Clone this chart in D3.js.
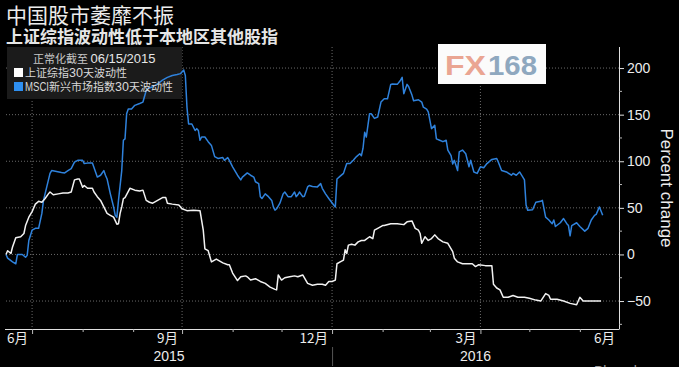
<!DOCTYPE html>
<meta charset="utf-8">
<style>
    body { margin: 0; background: #000; }
    svg { display: block; background: #000; }
    .grid line { stroke: #6a6a6a; stroke-dasharray: 1,2; }
    .cjk { font-family: "Noto Sans CJK SC", sans-serif; }
    .lat { font-family: "Liberation Sans", "Noto Sans", sans-serif; }
</style>
<svg width="679" height="367"></svg>
<script src="https://d3js.org/d3.v7.min.js"></script>
<script>

    // 上证综指30天波动性, normalized to 06/15/2015
    var shDates = ["2015-06-15","2015-06-16","2015-06-18","2015-06-19","2015-06-21","2015-06-24","2015-06-26","2015-06-27","2015-06-29",
        "2015-07-01","2015-07-03","2015-07-05","2015-07-07","2015-07-09","2015-07-11","2015-07-12","2015-07-14","2015-07-17","2015-07-20",
        "2015-07-23","2015-07-25","2015-07-27","2015-07-29","2015-07-30","2015-08-01","2015-08-02","2015-08-04","2015-08-07","2015-08-08",
        "2015-08-10","2015-08-12","2015-08-14","2015-08-16","2015-08-18","2015-08-20","2015-08-22","2015-08-23","2015-08-24","2015-08-25",
        "2015-08-26","2015-08-27","2015-08-30","2015-09-02","2015-09-05","2015-09-07","2015-09-09","2015-09-11","2015-09-13","2015-09-16",
        "2015-09-19","2015-09-21","2015-09-22","2015-09-25","2015-09-29","2015-10-01","2015-10-04","2015-10-08","2015-10-12","2015-10-14",
        "2015-10-15","2015-10-17","2015-10-19","2015-10-22","2015-10-26","2015-10-29","2015-10-30","2015-11-01","2015-11-04","2015-11-06",
        "2015-11-09","2015-11-10","2015-11-12","2015-11-15","2015-11-18","2015-11-21","2015-11-24","2015-11-27","2015-11-28","2015-11-29",
        "2015-12-01","2015-12-03","2015-12-06","2015-12-09","2015-12-11","2015-12-14","2015-12-17","2015-12-20","2015-12-23","2015-12-26",
        "2015-12-28","2015-12-30","2016-01-01","2016-01-03","2016-01-04","2016-01-06","2016-01-08","2016-01-09","2016-01-10","2016-01-11",
        "2016-01-13","2016-01-15","2016-01-17","2016-01-19","2016-01-21","2016-01-24","2016-01-26","2016-01-27","2016-01-29","2016-02-01",
        "2016-02-02","2016-02-06","2016-02-10","2016-02-14","2016-02-16","2016-02-19","2016-02-21","2016-02-23","2016-02-24","2016-02-25",
        "2016-02-27","2016-02-29","2016-03-02","2016-03-04","2016-03-06","2016-03-09","2016-03-12","2016-03-15","2016-03-16","2016-03-18",
        "2016-03-21","2016-03-24","2016-03-27","2016-03-29","2016-03-31","2016-04-04","2016-04-08","2016-04-09","2016-04-11","2016-04-13",
        "2016-04-15","2016-04-18","2016-04-21","2016-04-24","2016-04-28","2016-05-01","2016-05-05","2016-05-08","2016-05-11","2016-05-13",
        "2016-05-14","2016-05-18","2016-05-22","2016-05-26","2016-05-30","2016-06-01","2016-06-03","2016-06-07","2016-06-14"];
    var shValues = [0,4,1,8,18,19,22.5,31,40,
        46,54,57,56,60,65,67,64,65,66,
        66,67,80,81,81,72,74,71,71,67,
        62,58,51,44,42,40,32.5,33,44,51,
        60,61,71,69,68,69,58,56,55,58,
        61,61,55,54,53,49,47,47.5,47,26,
        6,4,-8,-5,-9,-11,-11,-20,-28,-24,
        -23,-24,-27.5,-26,-29,-31,-35,-37.5,-38,-22,
        -27.5,-25,-24,-23,-24,-22,-31,-33,-32,-32,
        -33,-29,-29,-27.5,-10,-8,-6,5,1,10,
        11,10,13.5,15,15,19,17,26,28,31,
        31,33,33,32,35,36,28,26,22.5,12,
        19,15,17,21,17,13.5,12,3,-4,-8,
        -10,-10,-10,-13,-11,-12,-12,-32,-36,-38,
        -46,-46,-44,-46,-46,-47,-49,-50,-42,-44,
        -48,-48,-50,-52.5,-54,-46,-50,-50,-50];

    // MSCI新兴市场指数30天波动性, normalized to 06/15/2015
    var emDates = ["2015-06-15","2015-06-16","2015-06-19","2015-06-21","2015-06-22","2015-06-24","2015-06-25","2015-06-27","2015-06-28",
        "2015-06-29","2015-07-01","2015-07-03","2015-07-05","2015-07-07","2015-07-08","2015-07-10","2015-07-12","2015-07-13","2015-07-16",
        "2015-07-19","2015-07-21","2015-07-23","2015-07-25","2015-07-27","2015-07-29","2015-08-01","2015-08-02","2015-08-04","2015-08-07",
        "2015-08-10","2015-08-12","2015-08-14","2015-08-15","2015-08-16","2015-08-18","2015-08-20","2015-08-21","2015-08-22","2015-08-23",
        "2015-08-25","2015-08-26","2015-08-27","2015-08-28","2015-08-29","2015-08-31","2015-09-02","2015-09-05","2015-09-07","2015-09-09",
        "2015-09-10","2015-09-13","2015-09-16","2015-09-19","2015-09-22","2015-09-25","2015-09-28","2015-09-30","2015-10-02","2015-10-03",
        "2015-10-04","2015-10-05","2015-10-07","2015-10-09","2015-10-10","2015-10-11","2015-10-12","2015-10-13","2015-10-15","2015-10-17",
        "2015-10-19","2015-10-21","2015-10-23","2015-10-26","2015-10-27","2015-10-29","2015-10-30","2015-11-01","2015-11-04","2015-11-06",
        "2015-11-07","2015-11-10","2015-11-12","2015-11-14","2015-11-15","2015-11-17","2015-11-18","2015-11-19","2015-11-21","2015-11-23",
        "2015-11-25","2015-11-26","2015-11-27","2015-11-28","2015-11-30","2015-12-02","2015-12-03","2015-12-05","2015-12-07","2015-12-09",
        "2015-12-10","2015-12-11","2015-12-12","2015-12-14","2015-12-15","2015-12-17","2015-12-18","2015-12-20","2015-12-23","2015-12-25",
        "2015-12-26","2015-12-28","2015-12-30","2016-01-02","2016-01-03","2016-01-04","2016-01-06","2016-01-08","2016-01-10","2016-01-12",
        "2016-01-14","2016-01-16","2016-01-18","2016-01-19","2016-01-20","2016-01-21","2016-01-22","2016-01-24","2016-01-25","2016-01-27",
        "2016-01-29","2016-01-31","2016-02-02","2016-02-04","2016-02-06","2016-02-07","2016-02-10","2016-02-12","2016-02-13","2016-02-14",
        "2016-02-16","2016-02-17","2016-02-19","2016-02-20","2016-02-23","2016-02-25","2016-02-26","2016-02-28","2016-02-29","2016-03-02",
        "2016-03-04","2016-03-05","2016-03-07","2016-03-09","2016-03-11","2016-03-12","2016-03-14","2016-03-15","2016-03-16","2016-03-18",
        "2016-03-19","2016-03-21","2016-03-23","2016-03-25","2016-03-26","2016-03-28","2016-03-30","2016-04-01","2016-04-03","2016-04-05",
        "2016-04-08","2016-04-11","2016-04-12","2016-04-14","2016-04-17","2016-04-20","2016-04-21","2016-04-23","2016-04-25","2016-04-27",
        "2016-04-28","2016-04-29","2016-04-30","2016-05-03","2016-05-05","2016-05-08","2016-05-09","2016-05-11","2016-05-13","2016-05-15",
        "2016-05-16","2016-05-17","2016-05-20","2016-05-22","2016-05-24","2016-05-25","2016-05-26","2016-05-27","2016-05-30","2016-06-01",
        "2016-06-04","2016-06-06","2016-06-08","2016-06-10","2016-06-11","2016-06-13","2016-06-15"];
    var emValues = [0,-4,-8,-10,0,0,0,-3,-1,
        15,26,28,28,44,58,72.5,87,90,89,
        88,87.5,90,92,99,101,101,97.5,98,98,
        83,85,90,85,81,65,51,42,40,58,
        90,122.5,124,151,156,156,160,162,163.5,176,
        178,180,183,187,190,192,193,194,198,192,
        158,140,140,133,135,133,122.5,126,126,121,
        117,105,103,104,101,104,101,94,85,80,
        83,87.5,85,83,78,76,62,60,65,62,
        58,51,47.5,49,55,65,67,62,62,67,
        62,64,67,62,62.5,72.5,74,73,72.5,76,
        71,65,60,53,51,81,84,87,97.5,97.5,
        101,105,108,106,114,131,126,151,151,146,
        147.5,163.5,167,167,182.5,183,182.5,187,190,172.5,
        182.5,180,171,165,166,163.5,158,156,153,135,
        138.5,124,122.5,121,122.5,112,106,97,101,90,
        110,112,108,94,101,88.5,87,94,93,97.5,
        102,103,99,90,88.5,85,87,85,88.5,83,
        80,53,47.5,48,56,57,58,40,37,33,
        37,30,34,38.5,33,31,20,31,34,30,
        25,28,37,42,43,51,42];

    var yTicks = [-50, 0, 50, 100, 150, 200];
    var monthLabels = ["6月", "9月", "12月", "3月", "6月"];
    var yearLabels = ["2015", "2016"];

    var svg = d3.select("svg"),
        width = +svg.attr("width"),
        height = +svg.attr("height");

    var parse = d3.timeParse("%Y-%m-%d");

    var x = d3.scaleTime()
        .domain([parse("2015-06-15"), parse("2016-06-25")])
        .range([6, 619]);
    var y = d3.scaleLinear()
        .domain([-80, 222.6])
        .range([329, 47]);

    // titles
    svg.append("text").attr("class", "cjk")
        .attr("x", 6).attr("y", 23)
        .attr("fill", "#ececec").attr("font-size", 21)
        .text("中国股市萎靡不振");
    svg.append("text").attr("class", "cjk")
        .attr("x", 6).attr("y", 43)
        .attr("fill", "#e6e6e6").attr("font-size", 17).attr("font-weight", "bold")
        .text("上证综指波动性低于本地区其他股指");

    // grid
    var grid = svg.append("g").attr("class", "grid");
    grid.selectAll(".h").data(yTicks).enter().append("line")
        .attr("x1", 6).attr("x2", 619)
        .attr("y1", function(d) { return y(d); })
        .attr("y2", function(d) { return y(d); });

    var quarters = [parse("2015-07-01"), parse("2015-10-01"), parse("2016-01-01"), parse("2016-04-01")];
    grid.selectAll(".v").data(quarters).enter().append("line")
        .attr("x1", function(d) { return x(d); })
        .attr("x2", function(d) { return x(d); })
        .attr("y1", 47).attr("y2", 329);

    // legend box (under the lines)
    svg.append("rect")
        .attr("x", 7).attr("y", 47).attr("width", 175).attr("height", 52)
        .attr("fill", "#1b1b1b");

    // logo
    svg.append("rect")
        .attr("x", 438).attr("y", 44).attr("width", 108).attr("height", 40)
        .attr("fill", "#fbfbfb");
    svg.append("text").attr("class", "lat")
        .attr("x", 445).attr("y", 75).attr("font-size", 28).attr("font-weight", "bold")
        .attr("fill", "#eaa592").attr("textLength", 41).attr("lengthAdjust", "spacingAndGlyphs")
        .text("FX");
    svg.append("text").attr("class", "lat")
        .attr("x", 488).attr("y", 75).attr("font-size", 28).attr("font-weight", "bold")
        .attr("fill", "#8fa8bf").attr("textLength", 49).attr("lengthAdjust", "spacingAndGlyphs")
        .text("168");

    // lines
    var line = d3.line()
        .x(function(d) { return x(d[0]); })
        .y(function(d) { return y(d[1]); });

    var shData = shDates.map(function(d, i) { return [parse(d), shValues[i]]; });
    var emData = emDates.map(function(d, i) { return [parse(d), emValues[i]]; });

    svg.append("path").datum(emData)
        .attr("fill", "none").attr("stroke", "#2f82dc").attr("stroke-width", 1.5)
        .attr("stroke-linejoin", "round")
        .attr("d", line);
    svg.append("path").datum(shData)
        .attr("fill", "none").attr("stroke", "#f2f2f2").attr("stroke-width", 1.5)
        .attr("stroke-linejoin", "round")
        .attr("d", line);

    // legend text
    var lg = svg.append("g");
    var t0 = lg.append("text").attr("x", 33).attr("y", 63);
    t0.append("tspan").attr("class", "cjk").attr("font-size", 11).attr("fill", "#c8c8c8").text("正常化截至 ");
    t0.append("tspan").attr("class", "lat").attr("font-size", 13).attr("fill", "#e6e6e6").text("06/15/2015");

    lg.append("rect").attr("x", 14).attr("y", 68).attr("width", 9).attr("height", 9).attr("fill", "#ffffff");
    var t1 = lg.append("text").attr("x", 25).attr("y", 77).attr("fill", "#d8d8d8");
    t1.append("tspan").attr("class", "cjk").attr("font-size", 11).text("上证综指");
    t1.append("tspan").attr("class", "lat").attr("font-size", 12.5).text("30");
    t1.append("tspan").attr("class", "cjk").attr("font-size", 11).text("天波动性");

    lg.append("rect").attr("x", 14).attr("y", 82).attr("width", 9).attr("height", 9).attr("fill", "#2e8ff0");
    var t2 = lg.append("text").attr("x", 25).attr("y", 91).attr("fill", "#d8d8d8");
    t2.append("tspan").attr("class", "lat").attr("font-size", 12).attr("textLength", 24)
        .attr("lengthAdjust", "spacingAndGlyphs").text("MSCI");
    t2.append("tspan").attr("class", "cjk").attr("font-size", 11).text("新兴市场指数");
    t2.append("tspan").attr("class", "lat").attr("font-size", 12.5).text("30");
    t2.append("tspan").attr("class", "cjk").attr("font-size", 11).text("天波动性");

    // right axis
    var yAxis = d3.axisRight(y)
        .tickValues(yTicks)
        .tickSize(5)
        .tickPadding(3);
    var ya = svg.append("g")
        .attr("transform", "translate(619,0)")
        .call(yAxis);
    ya.select(".domain").attr("stroke", "#e0e0e0").attr("d", "M0.5,47V329");
    ya.selectAll(".tick line").attr("stroke", "#e0e0e0");
    ya.selectAll(".tick text").attr("class", "lat").attr("fill", "#ececec").attr("font-size", 14);

    var minor = d3.range(-75, 225, 50);
    ya.selectAll(".minor").data(minor).enter().append("line")
        .attr("x1", 0).attr("x2", 3)
        .attr("y1", function(d) { return y(d); })
        .attr("y2", function(d) { return y(d); })
        .attr("stroke", "#bbbbbb");

    svg.append("text").attr("class", "lat")
        .attr("transform", "translate(661,188) rotate(90)")
        .attr("text-anchor", "middle")
        .attr("fill", "#ececec").attr("font-size", 17)
        .text("Percent change");

    // bottom axis
    var months = d3.timeMonth.range(parse("2015-07-01"), parse("2016-06-25"));
    var xa = svg.append("g").attr("transform", "translate(0,329)");
    xa.append("line").attr("x1", 5).attr("x2", 619.5).attr("y1", 0.5).attr("y2", 0.5)
        .attr("stroke", "#e0e0e0");
    xa.selectAll(".mt").data(months).enter().append("line")
        .attr("x1", function(d) { return x(d) + 0.5; })
        .attr("x2", function(d) { return x(d) + 0.5; })
        .attr("y1", 0)
        .attr("y2", function(d) { return d.getMonth() % 3 === 0 ? 5 : 3; })
        .attr("stroke", "#bbbbbb");

    // month labels sit at the right end of their month
    var labelEnds = [parse("2015-07-01"), parse("2015-10-01"), parse("2016-01-01"), parse("2016-04-01"), parse("2016-06-25")];
    xa.selectAll(".ml").data(monthLabels).enter().append("text")
        .attr("class", "cjk")
        .attr("x", function(d, i) { return x(labelEnds[i]) - 4; })
        .attr("y", 14)
        .attr("text-anchor", "end")
        .attr("fill", "#ececec").attr("font-size", 13.5)
        .text(function(d) { return d; });

    var yearSpans = [[x.range()[0], x(parse("2016-01-01"))], [x(parse("2016-01-01")), x.range()[1]]];
    xa.selectAll(".yl").data(yearLabels).enter().append("text")
        .attr("class", "lat")
        .attr("x", function(d, i) { return (yearSpans[i][0] + yearSpans[i][1]) / 2; })
        .attr("y", 32)
        .attr("text-anchor", "middle")
        .attr("fill", "#ececec").attr("font-size", 14)
        .text(function(d) { return d; });
    xa.append("line")
        .attr("x1", x(parse("2016-01-01")) + 0.5).attr("x2", x(parse("2016-01-01")) + 0.5)
        .attr("y1", 18).attr("y2", 37)
        .attr("stroke", "#555555");

    // source, cut off at the bottom edge as in the original
    svg.append("text").attr("class", "lat")
        .attr("x", 594).attr("y", 376)
        .attr("fill", "#9a9a9a").attr("font-size", 14)
        .text("Bloomberg");

</script>
